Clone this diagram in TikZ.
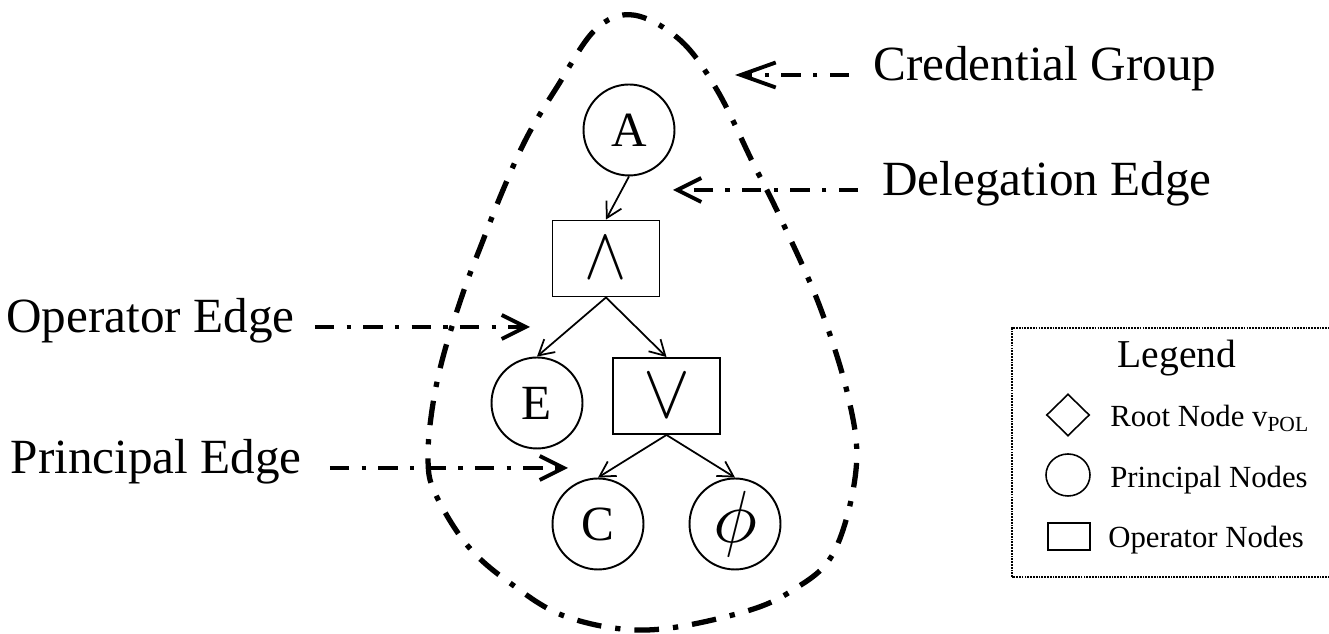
\documentclass[tikz,border=0pt]{standalone}
\usepackage{fontspec}
\setmainfont{Liberation Serif}
\usepackage{amssymb,amsmath}
\usepackage{graphicx}
\usepackage{tikz}
\usetikzlibrary{arrows.meta}
\usetikzlibrary{shapes.geometric}

\tikzset{
  principal/.style={circle,draw,line width=1.1pt,minimum size=1.82cm,inner sep=0pt,font=\fontsize{28}{28}\selectfont},
  operator/.style={rectangle,draw,line width=1.1pt,minimum width=2.14cm,minimum height=1.52cm,inner sep=0pt},
  link/.style={line width=1pt,-{Straight Barb[length=0.3cm,width=0.34cm]}},
  callout/.style={line width=2.2pt,dash pattern=on 11pt off 7pt on 2.5pt off 7pt,shorten <=0.48cm,-{Straight Barb[length=0.48cm,width=0.48cm]}},
  lbl/.style={inner sep=0pt,text height=0.66em,text depth=0pt,font=\fontsize{28}{30}\selectfont},
  credgroup/.style={line width=3pt,dash pattern=on 14pt off 8pt on 3pt off 8pt},
  keytext/.style={anchor=base west,inner sep=0pt,font=\fontsize{17.5}{20}\selectfont},
  keyshape/.style={draw,line width=0.9pt,inner sep=0pt},
}

\begin{document}
\begin{tikzpicture}[x=0.02cm,y=0.02cm]
\useasboundingbox (0,0) rectangle (1329,634);

% the credential group
\draw[credgroup] plot[smooth cycle,tension=0.6] coordinates {
  (633,619) (680,594) (717,544) (753,471) (780,417) (820,327) (849,234)
  (856,164) (834,82) (793,44) (740,21) (647,4) (567,17) (510,51) (467,89)
  (435,141) (428,174) (432,224) (443,277) (463,341) (482,391) (503,444)
  (527,497) (557,547) (595,604)};

% tree
\node at (629,504)   [principal] (A) {A};
\node at (606,375.5) [operator]  (opand) {\scalebox{3.6}[4.2]{$\wedge$}};
\node at (537,231)   [principal] (E) {E};
\node at (666.5,238) [operator]  (opor) {\scalebox{4}[4.4]{$\vee$}};
\node at (598,110)   [principal] (C) {C};
\node at (735,110)   [principal,font=\normalsize] (phi) {\scalebox{4.2}{$\phi$}};

\draw[link] (A.south) -- (opand.north);
\draw[link] (opand.south) -- (E.north);
\draw[link] (opand.south) -- (opor.north);
\draw[link] (opor.south) -- (C.north);
\draw[link] (opor.south) -- (phi.north);

% callouts
\node at (873,559) [lbl,anchor=west] (cred)  {Credential Group};
\node at (882,444) [lbl,anchor=west] (deleg) {Delegation Edge};
\node at (295,307) [lbl,anchor=east] (oper)  {Operator Edge};
\node at (302,166) [lbl,anchor=east] (princ) {Principal Edge};
\coordinate (credtip)  at (735,559);
\coordinate (delegtip) at (673,444);
\coordinate (opertip)  at (530,307);
\coordinate (princtip) at (568,166);
\draw[callout,-{Straight Barb[length=0.7cm,width=0.5cm]}] (cred.west) -- (credtip);
\draw[callout] (deleg.west) -- (delegtip);
\draw[callout,shorten <=0.4cm] (oper.east) -- (opertip);
\draw[callout,shorten <=0.56cm] (princ.east) -- (princtip);

% legend
\draw[line width=0.7pt,dash pattern=on 1pt off 0.6pt] (1012,57) rectangle (1345,306);
\node at (1177,266) [anchor=base,inner sep=0pt,font=\fontsize{22.5}{24}\selectfont] (keytitle) {Legend};
\node at (1068,219)  [keyshape,diamond,minimum width=0.86cm,minimum height=0.84cm] (keyroot) {};
\node at (1110,207)  [keytext] (keyroottxt) {Root Node v\textsubscript{POL}};
\node at (1068,159)  [keyshape,ellipse,minimum width=0.88cm,minimum height=0.84cm] (keyprin) {};
\node at (1110,146)  [keytext] (keyprintxt) {Principal Nodes};
\node at (1069,97.5) [keyshape,rectangle,minimum width=0.84cm,minimum height=0.54cm] (keyop) {};
\node at (1108,86)   [keytext] (keyoptxt) {Operator Nodes};
\end{tikzpicture}
\end{document}
